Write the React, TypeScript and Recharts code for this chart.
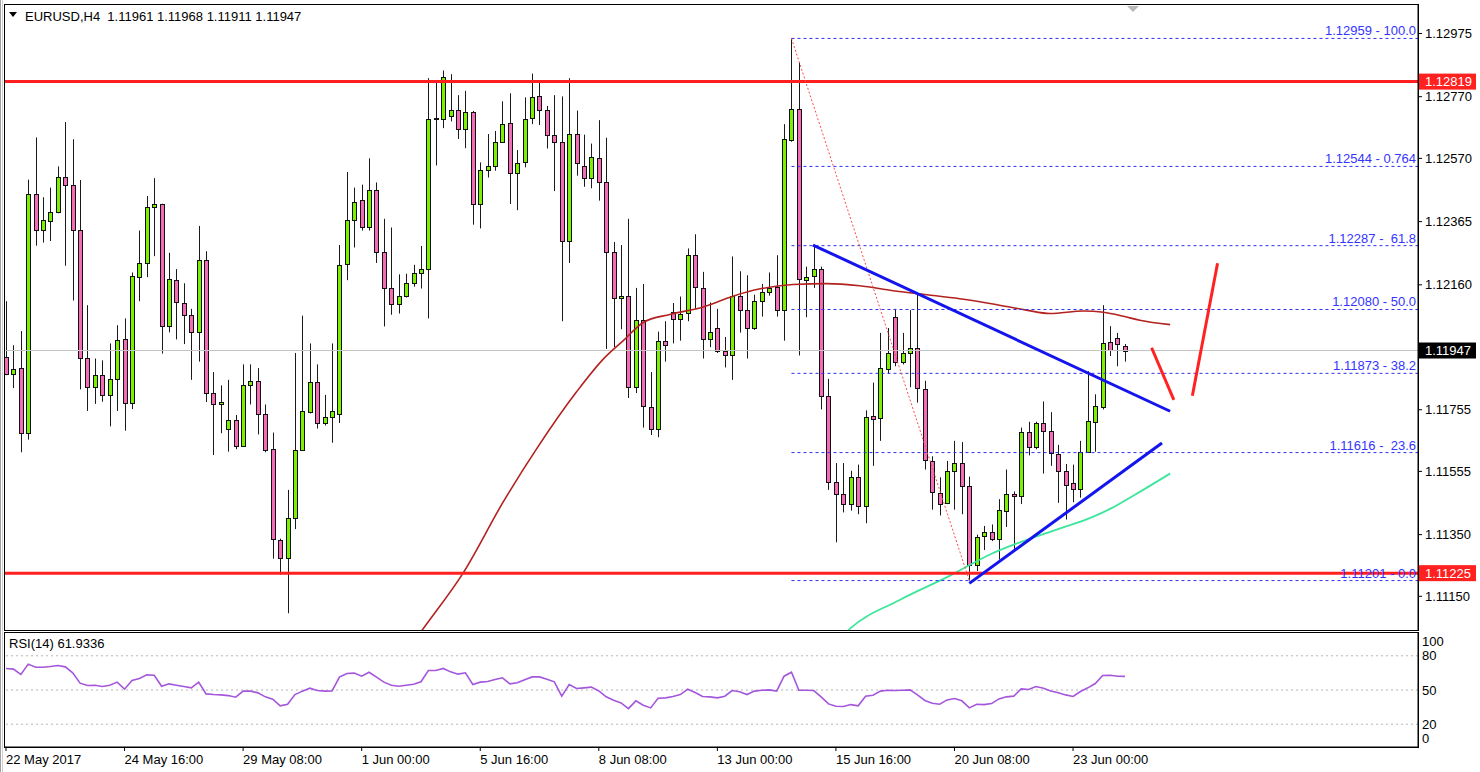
import React from "react";
import { ComposedChart, Bar, Line, XAxis, YAxis, ReferenceLine } from "recharts";

const FONT = '"Liberation Sans", Arial, sans-serif';
const GREEN = "#7cf000";
const PINK = "#f46cb6";

// H4 candles, index 0 = 22 May 2017 00:00
const opens = [
  1.11927, 1.11871, 1.1189, 1.11681, 1.12454, 1.12339, 1.12367, 1.12396, 1.12509, 1.12485,
  1.12339, 1.11922, 1.1183, 1.11869, 1.11802, 1.11856, 1.11984, 1.11777, 1.12185, 1.12232,
  1.12411, 1.12421, 1.12026, 1.12175, 1.12101, 1.12061, 1.12008, 1.12241, 1.11809, 1.11774,
  1.11694, 1.11723, 1.11638, 1.11836, 1.11849, 1.11741, 1.11629, 1.11334, 1.11275, 1.11403,
  1.11625, 1.11747, 1.11846, 1.11713, 1.11732, 1.11741, 1.12227, 1.1237, 1.12436, 1.12346,
  1.12467, 1.12268, 1.12149, 1.12099, 1.12123, 1.12166, 1.12197, 1.12211, 1.12698, 1.12699,
  1.12706, 1.12726, 1.12665, 1.1272, 1.12423, 1.12531, 1.12545, 1.12624, 1.12684, 1.12523,
  1.12557, 1.12701, 1.12771, 1.12726, 1.12647, 1.12624, 1.12302, 1.1265, 1.12545, 1.12508,
  1.12572, 1.12493, 1.12267, 1.12117, 1.12125, 1.11828, 1.12045, 1.11763, 1.11694, 1.11977,
  1.12072, 1.12049, 1.1207, 1.12256, 1.1215, 1.11983, 1.1202, 1.11946, 1.11931, 1.12125,
  1.12078, 1.1202, 1.12107, 1.12138, 1.12153, 1.12078, 1.12631, 1.12731, 1.12175, 1.12188,
  1.12212, 1.11799, 1.1152, 1.11483, 1.11449, 1.11538, 1.11443, 1.11735, 1.11728, 1.11887,
  1.12057, 1.11911, 1.11939, 1.11955, 1.11821, 1.11588, 1.11486, 1.11453, 1.11557, 1.11583,
  1.11507, 1.11251, 1.11344, 1.11359, 1.11337, 1.11428, 1.11483, 1.11474, 1.11682, 1.11635,
  1.11712, 1.11685, 1.1161, 1.11557, 1.11517, 1.11499, 1.11619, 1.11716, 1.11763, 1.11973,
  1.11986, 1.11961,
];
const highs = [
  1.12107, 1.11964, 1.1201, 1.12501, 1.12638, 1.12444, 1.12475, 1.12544, 1.12688, 1.12632,
  1.125, 1.12094, 1.11921, 1.11915, 1.1197, 1.12029, 1.12051, 1.122, 1.12336, 1.12448,
  1.12506, 1.12423, 1.12264, 1.12211, 1.12165, 1.12082, 1.12351, 1.12269, 1.11877, 1.11834,
  1.11852, 1.11738, 1.11902, 1.11902, 1.1189, 1.11772, 1.11681, 1.11337, 1.11495, 1.11939,
  1.1206, 1.1197, 1.11902, 1.11803, 1.1197, 1.12289, 1.12526, 1.12475, 1.12485, 1.1257,
  1.12492, 1.12374, 1.12346, 1.12194, 1.12196, 1.12225, 1.12286, 1.1283, 1.1282, 1.12855,
  1.12843, 1.12775, 1.12789, 1.12724, 1.12557, 1.12649, 1.12659, 1.12755, 1.12781, 1.12597,
  1.12768, 1.12845, 1.1282, 1.1274, 1.12775, 1.12771, 1.1283, 1.12725, 1.12647, 1.12618,
  1.12694, 1.12637, 1.12299, 1.12289, 1.12374, 1.1215, 1.12163, 1.11877, 1.12008, 1.12042,
  1.12101, 1.12122, 1.12278, 1.12324, 1.12202, 1.12103, 1.12082, 1.11991, 1.12252, 1.12204,
  1.12191, 1.12128, 1.12163, 1.122, 1.12256, 1.12681, 1.12959, 1.1288, 1.12219, 1.12289,
  1.12219, 1.11855, 1.11582, 1.11582, 1.11557, 1.11577, 1.11753, 1.11843, 1.12004, 1.1202,
  1.12082, 1.12004, 1.12078, 1.12128, 1.11849, 1.11604, 1.11536, 1.11589, 1.11654, 1.1165,
  1.11538, 1.1135, 1.11378, 1.11383, 1.11465, 1.11561, 1.1149, 1.11697, 1.11716, 1.11716,
  1.11782, 1.11747, 1.11641, 1.11579, 1.11577, 1.11654, 1.1188, 1.11805, 1.12094, 1.12026,
  1.12004, 1.11968,
];
const lows = [
  1.11867, 1.11825, 1.11617, 1.11658, 1.12287, 1.12297, 1.12302, 1.12392, 1.12222, 1.12109,
  1.11821, 1.11751, 1.11774, 1.11781, 1.11701, 1.11751, 1.11687, 1.11757, 1.12107, 1.12185,
  1.12253, 1.11937, 1.12006, 1.11983, 1.11968, 1.11852, 1.11911, 1.1178, 1.11608, 1.11679,
  1.11619, 1.11627, 1.11638, 1.11772, 1.11675, 1.11617, 1.11272, 1.1122, 1.11095, 1.11368,
  1.11623, 1.11743, 1.11694, 1.11704, 1.11648, 1.11712, 1.12175, 1.12281, 1.12336, 1.12336,
  1.12231, 1.12025, 1.12063, 1.12067, 1.12119, 1.12154, 1.12148, 1.12051, 1.12547, 1.12668,
  1.1269, 1.12633, 1.12603, 1.12355, 1.12343, 1.12508, 1.1253, 1.1262, 1.12422, 1.12402,
  1.12541, 1.12681, 1.12678, 1.12602, 1.12464, 1.12042, 1.12231, 1.12514, 1.12478, 1.12473,
  1.12433, 1.11952, 1.11958, 1.12016, 1.11793, 1.11809, 1.11697, 1.11673, 1.11666, 1.11911,
  1.1197, 1.11979, 1.12042, 1.12082, 1.11921, 1.11958, 1.11939, 1.11892, 1.11852, 1.12005,
  1.11921, 1.12014, 1.12057, 1.12125, 1.12057, 1.11979, 1.12624, 1.11931, 1.12055, 1.1215,
  1.11756, 1.11495, 1.11325, 1.11422, 1.11428, 1.11416, 1.11387, 1.11573, 1.11654, 1.11871,
  1.11896, 1.11902, 1.11828, 1.11778, 1.11561, 1.11431, 1.11412, 1.11449, 1.11431, 1.11416,
  1.11201, 1.11232, 1.113, 1.11329, 1.11269, 1.11375, 1.113, 1.11449, 1.11607, 1.11627,
  1.11548, 1.11573, 1.11453, 1.11399, 1.11455, 1.1147, 1.11617, 1.11619, 1.11756, 1.11929,
  1.11896, 1.11911,
];
const closes = [
  1.11871, 1.11886, 1.11681, 1.12454, 1.12339, 1.1237, 1.12396, 1.12509, 1.12485, 1.12339,
  1.11922, 1.1183, 1.11869, 1.11802, 1.11856, 1.11982, 1.11777, 1.12188, 1.12232, 1.12411,
  1.12421, 1.12026, 1.12179, 1.12103, 1.12061, 1.12008, 1.12241, 1.11809, 1.11774, 1.1178,
  1.11723, 1.11638, 1.11836, 1.11849, 1.11741, 1.11625, 1.11335, 1.11275, 1.11403, 1.11625,
  1.11751, 1.11846, 1.11712, 1.11731, 1.11751, 1.12224, 1.1237, 1.1243, 1.12346, 1.12467,
  1.12268, 1.12149, 1.12099, 1.12125, 1.12166, 1.12197, 1.12212, 1.12699, 1.127, 1.12835,
  1.12726, 1.12665, 1.1272, 1.12422, 1.12531, 1.12545, 1.12624, 1.12681, 1.12523, 1.12554,
  1.12699, 1.12768, 1.12726, 1.12647, 1.12624, 1.12302, 1.1265, 1.12555, 1.12508, 1.12576,
  1.12493, 1.12267, 1.12117, 1.12125, 1.11828, 1.12045, 1.11766, 1.11691, 1.11979, 1.11964,
  1.12049, 1.12067, 1.12256, 1.12153, 1.11983, 1.12008, 1.11946, 1.11931, 1.12125, 1.12078,
  1.1202, 1.12107, 1.12138, 1.1215, 1.12078, 1.12632, 1.12731, 1.12179, 1.12184, 1.12212,
  1.11799, 1.1152, 1.11483, 1.11449, 1.11538, 1.11443, 1.11731, 1.11726, 1.1189, 1.11939,
  1.11911, 1.11939, 1.11954, 1.11824, 1.11592, 1.11489, 1.11449, 1.11557, 1.11583, 1.11507,
  1.11251, 1.11341, 1.11359, 1.11337, 1.11431, 1.11483, 1.11474, 1.11682, 1.11635, 1.11712,
  1.11685, 1.11614, 1.11557, 1.11511, 1.11499, 1.11619, 1.11718, 1.11766, 1.1197, 1.11949,
  1.11967, 1.11947,
];
const rsiValues = [
  68.9, 68.3, 63.6, 72.7, 70.0, 70.0, 70.6, 71.5, 70.3, 65.1,
  56.0, 53.9, 54.2, 53.1, 54.2, 56.9, 50.7, 58.3, 60.1, 63.3,
  63.0, 53.3, 55.4, 54.2, 53.1, 51.9, 56.9, 46.6, 46.0, 45.7,
  45.1, 43.7, 49.0, 49.0, 47.5, 44.0, 41.9, 36.1, 37.5, 46.0,
  49.0, 51.6, 49.5, 49.0, 49.2, 61.3, 64.5, 64.8, 62.1, 65.6,
  61.3, 56.9, 54.2, 53.3, 54.2, 55.1, 57.2, 67.1, 67.1, 68.9,
  65.9, 63.9, 65.1, 54.8, 56.9, 57.4, 59.2, 60.7, 55.4, 56.3,
  58.9, 61.5, 61.5, 59.5, 57.2, 44.6, 54.8, 51.3, 51.9, 52.5,
  49.2, 44.0, 41.0, 38.7, 33.7, 40.5, 36.6, 34.3, 42.8, 43.1,
  44.3, 46.0, 50.7, 47.8, 44.3, 44.0, 43.1, 44.6, 49.5, 48.4,
  46.0, 49.0, 49.8, 50.1, 49.0, 62.1, 65.6, 49.8, 49.8, 49.5,
  44.0, 37.8, 35.8, 35.5, 37.2, 36.1, 44.6, 45.4, 49.0, 49.8,
  49.5, 49.8, 50.1, 45.7, 40.8, 38.4, 37.5, 41.3, 42.5, 40.5,
  34.3, 37.5, 37.2, 38.1, 42.2, 44.0, 44.6, 51.0, 50.4, 53.1,
  51.6, 49.2, 47.5, 45.7, 44.3, 48.7, 51.9, 55.7, 62.7, 63.0,
  62.1, 61.93,
];

// moving averages (shifted forward, read at bar positions)
const slowMaIdx = [52, 56.3, 61.7, 67.1, 71.6, 77, 80.6, 83.3, 86, 89.6, 94.1, 98.2, 101.8, 106.2, 110.8, 115.2, 119.7, 124.3, 128.7, 133.2, 137.7, 140.9, 145.4, 148.1, 150.8, 153, 157.1];
const slowMaVal = [1.109, 1.11045, 1.11226, 1.11456, 1.11628, 1.11813, 1.11919, 1.11979, 1.12038, 1.12064, 1.12088, 1.12124, 1.12147, 1.12161, 1.12164, 1.12157, 1.12141, 1.12128, 1.12115, 1.12098, 1.12078, 1.12067, 1.12075, 1.12071, 1.12058, 1.12045, 1.12031];
const fastMaIdx = [110, 113.9, 120.6, 127.4, 133, 137.5, 142, 146.5, 149.2, 152.4, 157.1];
const fastMaVal = [1.1094, 1.11045, 1.11138, 1.11217, 1.11288, 1.11331, 1.11368, 1.11406, 1.11436, 1.1148, 1.11548];

const priceTicks = [1.1115, 1.1135, 1.11555, 1.11755, 1.1216, 1.12365, 1.1257, 1.1277, 1.12975];
const dateTicks = [0, 16, 32, 48, 64, 80, 96, 112, 128, 144];
const dateLabels = ["22 May 2017", "24 May 16:00", "29 May 08:00", "1 Jun 00:00", "5 Jun 16:00", "8 Jun 08:00", "13 Jun 00:00", "15 Jun 16:00", "20 Jun 08:00", "23 Jun 00:00"];
const rsiTicks = [0, 20, 50, 80, 100];

const supportLevels = [1.12819, 1.11225];
const lastPrice = 1.11947;
const fibLevels = [1.12959, 1.12544, 1.12287, 1.1208, 1.11873, 1.11616, 1.11201];
const fibTags = ["100.0", "0.764", " 61.8", "50.0", "38.2", " 23.6", "0.0"];
const fibStart = 106;
const fibDiag = [106, 1.12959, 130, 1.11201];
const blueLines = [
  [108.9, 1.12289, 157.1, 1.1175],
  [130, 1.11192, 156, 1.11647],
];
const redArrows = [
  [154.6, 1.11956, 157.6, 1.11787],
  [160.1, 1.118, 163.5, 1.1223],
];

const X_DOMAIN: [number, number] = [-0.135, 190.55];
const Y_DOMAIN: [number, number] = [1.110407, 1.130674];

const candles = opens.map((o, i) => ({ i, o, h: highs[i], l: lows[i], c: closes[i], rsi: rsiValues[i] }));
const slowMa = slowMaIdx.map((i, k) => ({ i, v: slowMaVal[k] }));
const fastMa = fastMaIdx.map((i, k) => ({ i, v: fastMaVal[k] }));

const Candle = (props: any) => {
  const { x, y, width, height, payload } = props;
  if (x == null || y == null || !payload) return null;
  const top = Math.min(y, y + height);
  const span = Math.abs(height);
  const range = payload.h - payload.l;
  const k = range > 0 ? span / range : 0;
  const py = (p: number) => top + (payload.h - p) * k;
  const cx = Math.round(x + width / 2) + 0.5;
  const up = payload.c >= payload.o;
  const bt = Math.round(py(Math.max(payload.o, payload.c))) + 0.5;
  const bb = Math.round(py(Math.min(payload.o, payload.c))) + 0.5;
  return (
    <g>
      <line x1={cx} x2={cx} y1={top} y2={top + span} stroke="#1a1a1a" strokeWidth={1} />
      <rect x={cx - 2} y={bt} width={4} height={Math.max(bb - bt, 1)} fill={up ? GREEN : PINK} stroke="#111" strokeWidth={1} />
    </g>
  );
};

const fibLabel = (text: string) => (props: any) => {
  const vb = props.viewBox || {};
  return (
    <text x={vb.x + vb.width - 2} y={vb.y - 3} textAnchor="end" fill="#3434ff" fontSize={13} fontFamily={FONT} style={{ whiteSpace: "pre" }}>
      {text}
    </text>
  );
};

const priceBox = (text: string, bg: string) => (props: any) => {
  const vb = props.viewBox || {};
  const bx = vb.x + vb.width + 1;
  return (
    <g>
      <rect x={bx} y={vb.y - 8} width={57} height={16} fill={bg} />
      <text x={bx + 6} y={vb.y + 4.5} fill="#fff" fontSize={13} fontFamily={FONT}>
        {text}
      </text>
    </g>
  );
};

const DateTick = (props: any) => {
  const { x, y, payload } = props;
  const k = dateTicks.indexOf(payload.value);
  return (
    <text x={x} y={y + 11} textAnchor="start" fill="#000" fontSize={13} fontFamily={FONT}>
      {dateLabels[k]}
    </text>
  );
};

const RsiTick = (props: any) => {
  const { x, y, payload } = props;
  const shift = payload.value === 100 ? 8 : payload.value === 0 ? -9 : 0;
  return (
    <text x={x} y={y + shift + 4.5} textAnchor="start" fill="#000" fontSize={13} fontFamily={FONT}>
      {payload.value}
    </text>
  );
};

export default function App() {
  return (
    <div style={{ position: "relative", width: 1480, height: 772, background: "#fff", overflow: "hidden", fontFamily: FONT }}>
      <style>{`body{margin:0}`}</style>
      <div style={{ position: "absolute", left: 0, top: 0 }}>
        <ComposedChart width={1480} height={632} data={candles} margin={{ top: 5, right: 2, bottom: 2, left: 5 }}>
          <XAxis dataKey="i" type="number" domain={X_DOMAIN} allowDataOverflow hide />
          <YAxis
            orientation="right"
            width={60}
            type="number"
            domain={Y_DOMAIN}
            allowDataOverflow
            ticks={priceTicks}
            interval={0}
            tickSize={4}
            tickMargin={3}
            tickFormatter={(v: number) => v.toFixed(5)}
            tick={{ fill: "#000", fontSize: 13, fontFamily: FONT }}
            axisLine={{ stroke: "#000" }}
            tickLine={{ stroke: "#000" }}
          />
          <ReferenceLine y={lastPrice} stroke="#c4c4c4" strokeWidth={1} label={priceBox(lastPrice.toFixed(5), "#000")} />
          <Bar dataKey={(d: any) => [d.l, d.h]} barSize={5} shape={Candle} isAnimationActive={false} />
          <Line data={slowMa} dataKey="v" type="monotone" stroke="#b3221f" strokeWidth={1.6} dot={false} isAnimationActive={false} />
          <Line data={fastMa} dataKey="v" type="monotone" stroke="#3de69c" strokeWidth={1.8} dot={false} isAnimationActive={false} />
          {supportLevels.map((lv) => (
            <ReferenceLine key={`s-${lv}`} y={lv} stroke="#ff1f1f" strokeWidth={3} label={priceBox(lv.toFixed(5), "#ff2020")} />
          ))}
          {fibLevels.map((lv, k) => (
            <ReferenceLine
              key={`f-${lv}`}
              segment={[{ x: fibStart, y: lv }, { x: X_DOMAIN[1], y: lv }]}
              stroke="#3030f0"
              strokeDasharray="3 3"
              strokeWidth={1}
              ifOverflow="visible"
              label={fibLabel(`${lv.toFixed(5)} - ${fibTags[k]}`)}
            />
          ))}
          <ReferenceLine
            segment={[{ x: fibDiag[0], y: fibDiag[1] }, { x: fibDiag[2], y: fibDiag[3] }]}
            stroke="#ff4a4a"
            strokeDasharray="2 2"
            strokeWidth={1}
            ifOverflow="visible"
          />
          {blueLines.map((s, k) => (
            <ReferenceLine key={`b-${k}`} segment={[{ x: s[0], y: s[1] }, { x: s[2], y: s[3] }]} stroke="#1414ee" strokeWidth={3} ifOverflow="visible" />
          ))}
          {redArrows.map((s, k) => (
            <ReferenceLine key={`r-${k}`} segment={[{ x: s[0], y: s[1] }, { x: s[2], y: s[3] }]} stroke="#ff2222" strokeWidth={3} ifOverflow="visible" />
          ))}
        </ComposedChart>
      </div>
      <div style={{ position: "absolute", left: 0, top: 632 }}>
        <ComposedChart width={1480} height={140} data={candles} margin={{ top: 1, right: 2, bottom: 0, left: 5 }}>
          <XAxis
            dataKey="i"
            type="number"
            domain={X_DOMAIN}
            allowDataOverflow
            ticks={dateTicks}
            interval={0}
            height={25}
            tickSize={4}
            tickMargin={2}
            tick={DateTick}
            axisLine={{ stroke: "#000" }}
            tickLine={{ stroke: "#000" }}
          />
          <YAxis
            orientation="right"
            width={60}
            type="number"
            domain={[0, 100]}
            ticks={rsiTicks}
            interval={0}
            tickSize={0}
            tickMargin={4}
            tick={RsiTick}
            axisLine={{ stroke: "#000" }}
            tickLine={false}
          />
          {[80, 50, 20].map((lv) => (
            <ReferenceLine key={`g-${lv}`} y={lv} stroke="#b4b4b4" strokeDasharray="2 3" strokeWidth={1} />
          ))}
          <Line dataKey="rsi" type="linear" stroke="#a457dc" strokeWidth={1.6} dot={false} isAnimationActive={false} />
        </ComposedChart>
      </div>
      {/* panel frames */}
      <div style={{ position: "absolute", left: 4, top: 4, width: 1413, height: 625, border: "1px solid #000", pointerEvents: "none" }} />
      <div style={{ position: "absolute", left: 4, top: 632, width: 1413, height: 114, border: "1px solid #000", pointerEvents: "none" }} />
      <div style={{ position: "absolute", left: 0, top: 0, width: 1, height: 772, background: "#a0a0a0" }} />
      <div style={{ position: "absolute", left: 2, top: 0, width: 1, height: 772, background: "#d0d0d0" }} />
      {/* legends */}
      <svg style={{ position: "absolute", left: 0, top: 0 }} width={1480} height={30}>
        <polygon points="9,12 17,12 13,17" fill="#000" />
        <text x={25} y={21} fontSize={13} fontFamily={FONT} fill="#000" style={{ whiteSpace: "pre" }}>
          {"EURUSD,H4  1.11961 1.11968 1.11911 1.11947"}
        </text>
        <polygon points="1127,6 1139,6 1133,12" fill="#b8b8b8" />
      </svg>
      <div style={{ position: "absolute", left: 9, top: 636, fontSize: 13, color: "#000", fontFamily: FONT }}>RSI(14) 61.9336</div>
    </div>
  );
}
